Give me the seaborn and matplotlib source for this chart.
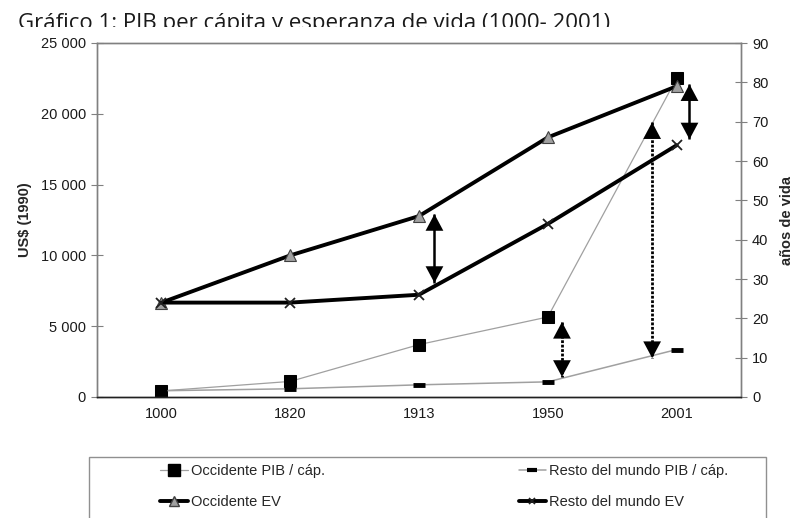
import pandas as pd
import matplotlib
matplotlib.use('Agg')
import matplotlib.pyplot as plt
from matplotlib.ticker import FuncFormatter
from matplotlib.patches import Rectangle
from matplotlib.lines import Line2D
import seaborn as sns

# ── Data ─────────────────────────────────────────────────────────────
years = ['1000', '1820', '1913', '1950', '2001']
occ_pib = [427, 1100, 3700, 5650, 22500]     # Occidente PIB / cáp. (US$ 1990)
resto_pib = [441, 580, 860, 1070, 3350]      # Resto del mundo PIB / cáp.
occ_ev = [24, 36, 46, 66, 79]                # Occidente esperanza de vida
resto_ev = [24, 24, 26, 44, 64]              # Resto del mundo esperanza de vida

df = pd.DataFrame({'pos': range(len(years)), 'year': years,
                   'occ_pib': occ_pib, 'resto_pib': resto_pib,
                   'occ_ev': occ_ev, 'resto_ev': resto_ev})

sns.set_theme(style='white')
plt.rcParams['font.family'] = ['Liberation Sans', 'DejaVu Sans']

W, H = 796, 518
fig = plt.figure(figsize=(W / 100, H / 100), dpi=100)
ax = fig.add_axes([97 / W, 121 / H, 644 / W, 354 / H])
ax2 = ax.twinx()

# ── PIB series (left axis) ───────────────────────────────────────────
sns.lineplot(data=df, x='pos', y='occ_pib', ax=ax, color='#a0a0a0', lw=0.9,
             marker='s', markersize=9, markerfacecolor='black',
             markeredgecolor='black')
sns.lineplot(data=df, x='pos', y='resto_pib', ax=ax, color='#a0a0a0', lw=1.1,
             marker='_', markersize=8, markeredgewidth=3.5,
             markeredgecolor='black')

# ── Life expectancy series (right axis) ──────────────────────────────
sns.lineplot(data=df, x='pos', y='occ_ev', ax=ax2, color='black', lw=2.8,
             marker='^', markersize=9, markerfacecolor='#a0a0a0',
             markeredgecolor='#404040', markeredgewidth=0.8)
sns.lineplot(data=df, x='pos', y='resto_ev', ax=ax2, color='black', lw=2.8,
             marker='x', markersize=7, markeredgewidth=1.3,
             markeredgecolor='#202020')

# ── Gap arrows ───────────────────────────────────────────────────────
def gap_arrow(axis, x, y0, y1, style):
    # shaft
    axis.plot([x, x], [y0, y1], color='black', lw=1.8 if style == '-' else 2.0,
              linestyle='-' if style == '-' else (0, (1, 0.6)),
              solid_capstyle='butt', zorder=4)
    # solid heads on both ends
    axis.annotate('', xy=(x, y1), xytext=(x, y0),
                  arrowprops=dict(arrowstyle='<|-|>,head_length=0.6,head_width=0.32',
                                  mutation_scale=20, facecolor='black',
                                  edgecolor='black', lw=0, shrinkA=0, shrinkB=0),
                  zorder=5)

gap_arrow(ax2, 2.12, occ_ev[2] + 0.5, resto_ev[2] + 3, '-')
gap_arrow(ax, 3.11, occ_pib[3] - 350, resto_pib[3] + 350, ':')
gap_arrow(ax, 3.81, occ_pib[4] - 3100, resto_pib[4] - 600, ':')
gap_arrow(ax2, 4.10, occ_ev[4] + 0.5, resto_ev[4] + 1.5, '-')

# ── Axes styling ─────────────────────────────────────────────────────
ax.set_xlim(-0.5, len(years) - 0.5)
ax.set_ylim(0, 25000)
ax2.set_ylim(0, 90)
ax.set_yticks(range(0, 25001, 5000))
ax2.set_yticks(range(0, 91, 10))
ax.yaxis.set_major_formatter(FuncFormatter(lambda v, p: f'{v:,.0f}'.replace(',', ' ')))

ax.set_xticks([i + 0.5 for i in range(len(years) - 1)])
ax.set_xticklabels([])
ax.set_xticks(range(len(years)), minor=True)
ax.set_xticklabels(years, minor=True)
ax.tick_params(axis='x', which='major', direction='inout', length=9,
               width=0.8, color='#404040')
ax.tick_params(axis='x', which='minor', length=0, pad=7, labelsize=10.5,
               labelcolor='#1a1a1a')
ax.tick_params(axis='y', direction='inout', length=8, width=0.8,
               color='#808080', pad=4, labelsize=10.5, labelcolor='#1a1a1a',
               left=True)
ax2.tick_params(axis='y', direction='inout', length=8, width=0.8,
                color='#808080', pad=4, labelsize=10.5, labelcolor='#1a1a1a',
                right=True)

ax.set_xlabel('')
ax.set_ylabel('US$ (1990)', fontweight='bold', fontsize=10.5, labelpad=6)
ax2.set_ylabel('años de vida', fontweight='bold', fontsize=10.5, labelpad=8)

for a in (ax, ax2):
    for side in ('left', 'right', 'top'):
        a.spines[side].set_color('#808080')
        a.spines[side].set_linewidth(1.0)
    a.spines['bottom'].set_color('#202020')
    a.spines['bottom'].set_linewidth(1.0)

# ── Legend (box runs off the bottom of the page) ─────────────────────
fig.patches.append(Rectangle((89 / W, -0.05), 677 / W, 0.05 + (H - 457) / H,
                             transform=fig.transFigure, facecolor='white',
                             edgecolor='#909090', lw=1.0, zorder=1))
handles = [
    Line2D([], [], color='#a0a0a0', lw=0.9, marker='s', markersize=8,
           markerfacecolor='black', markeredgecolor='black'),
    Line2D([], [], color='black', lw=2.8, marker='^', markersize=7,
           markerfacecolor='#a0a0a0', markeredgecolor='#404040'),
    Line2D([], [], color='#a0a0a0', lw=1.1, marker='_', markersize=7,
           markeredgewidth=3, markeredgecolor='black'),
    Line2D([], [], color='black', lw=2.8, marker='x', markersize=5,
           markeredgewidth=1.2, markeredgecolor='#202020'),
]
labels = ['Occidente PIB / cáp.', 'Occidente EV',
          'Resto del mundo PIB / cáp.', 'Resto del mundo EV']
leg = fig.legend(handles, labels, ncol=2, loc='upper left',
                 bbox_to_anchor=(160 / W, 1 - 464 / H),
                 frameon=False, fontsize=10.5, handlelength=1.9,
                 handletextpad=0.2, labelspacing=1.2, borderpad=0,
                 borderaxespad=0, columnspacing=13.3)
leg.set_zorder(3)

# ── Title (clipped at the top, as in the source scan) ────────────────
fig.text(18 / W, 1 - 13 / H, 'Gráfico 1: PIB per cápita y esperanza de vida (1000- 2001)',
         va='top', ha='left', fontsize=16, fontfamily='Open Sans',
         color='#1a1a1a', zorder=1)
fig.patches.append(Rectangle((0, 1 - 37 / H), 1, 10 / H, transform=fig.transFigure,
                             facecolor='white', edgecolor='none', zorder=2))

fig.savefig('out.png', dpi=100)
